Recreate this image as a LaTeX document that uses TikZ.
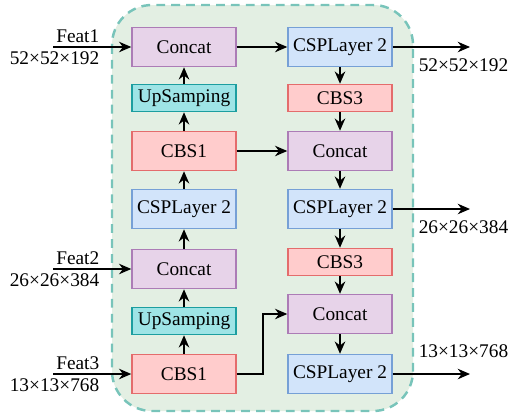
\documentclass[tikz,border=0pt]{standalone}
\usepackage{fontspec}
\setmainfont{Liberation Serif}
\usetikzlibrary{arrows.meta,positioning}

\definecolor{bgfill}{RGB}{227,239,227}
\definecolor{bgline}{RGB}{120,196,186}
\definecolor{catfill}{RGB}{231,211,233}
\definecolor{catline}{RGB}{172,124,182}
\definecolor{upfill}{RGB}{158,228,230}
\definecolor{upline}{RGB}{28,158,160}
\definecolor{cbsfill}{RGB}{255,204,204}
\definecolor{cbsline}{RGB}{228,108,108}
\definecolor{cspfill}{RGB}{210,228,250}
\definecolor{cspline}{RGB}{118,160,214}

\tikzset{
    blk/.style={draw, line width=0.85pt, minimum width=2.08cm, minimum height=0.78cm,
        inner sep=0pt, font=\fontsize{11}{13}\selectfont},
    slim/.style={minimum height=0.54cm},
    catbox/.style={blk, fill=catfill, draw=catline},
    upbox/.style={blk, slim, fill=upfill, draw=upline},
    cbsbox/.style={blk, fill=cbsfill, draw=cbsline},
    cspbox/.style={blk, fill=cspfill, draw=cspline},
    flow/.style={->, line width=0.85pt, >={Stealth[length=7pt,width=6pt]}},
    dim/.style={inner sep=2.5pt, font=\fontsize{11}{13}\selectfont},
}

\begin{document}
\begin{tikzpicture}[x=0.02cm, y=-0.02cm]
    \useasboundingbox (0,0) rectangle (510,416);
    % neck region
    \draw[draw=bgline, fill=bgfill, line width=1.4pt, dash pattern=on 5pt off 3.5pt,
        rounded corners=0.8cm] (112,5) rectangle (413,411);

    % left column, bottom to top
    \node[catbox] (cat-a) at (184,47) {Concat};
    \node[upbox]  (up-a)  at (184,98) {UpSamping};
    \node[cbsbox] (cbs-a) at (184,151) {CBS1};
    \node[cspbox] (csp-a) at (184,209) {CSPLayer 2};
    \node[catbox] (cat-b) at (184,269) {Concat};
    \node[upbox]  (up-b)  at (184,321) {UpSamping};
    \node[cbsbox] (cbs-b) at (184,374) {CBS1};

    % right column, top to bottom
    \node[cspbox] (csp-b) at (340,47) {CSPLayer 2};
    \node[cbsbox, slim] (cbs-c) at (340,98) {CBS3};
    \node[catbox] (cat-c) at (340,151) {Concat};
    \node[cspbox] (csp-c) at (340,209) {CSPLayer 2};
    \node[cbsbox, slim] (cbs-d) at (340,262) {CBS3};
    \node[catbox] (cat-d) at (340,314) {Concat};
    \node[cspbox] (csp-d) at (340,374) {CSPLayer 2};

    % backbone features in
    \foreach \k/\y/\sz/\dst in {1/47/52\texttimes52\texttimes192/cat-a,
                                2/269/26\texttimes26\texttimes384/cat-b,
                                3/374/13\texttimes13\texttimes768/cbs-b} {
        \coordinate (in-\k) at (53,\y);
        \node[dim, anchor=south east] at (104,\y) {Feat\k};
        \node[dim, anchor=north east] at (104,\y) {\sz};
        \draw[flow] (in-\k) -- (\dst);
    }

    % outputs
    \coordinate (out-1) at (470,47);
    \coordinate (out-2) at (470,209);
    \coordinate (out-3) at (470,374);
    \draw[flow] (csp-b) -- (out-1);
    \draw[flow] (csp-c) -- (out-2);
    \draw[flow] (csp-d) -- (out-3);
    \node[dim, anchor=north west] at (414,54) {52\texttimes52\texttimes192};
    \node[dim, anchor=north west] at (414,216) {26\texttimes26\texttimes384};
    \node[dim, anchor=south west] at (414,362) {13\texttimes13\texttimes768};

    % upward path
    \draw[flow] (cbs-b) -- (up-b);
    \draw[flow] (up-b) -- (cat-b);
    \draw[flow] (cat-b) -- (csp-a);
    \draw[flow] (csp-a) -- (cbs-a);
    \draw[flow] (cbs-a) -- (up-a);
    \draw[flow] (up-a) -- (cat-a);
    \draw[flow] (cat-a) -- (csp-b);

    % downward path
    \draw[flow] (csp-b) -- (cbs-c);
    \draw[flow] (cbs-c) -- (cat-c);
    \draw[flow] (cat-c) -- (csp-c);
    \draw[flow] (csp-c) -- (cbs-d);
    \draw[flow] (cbs-d) -- (cat-d);
    \draw[flow] (cat-d) -- (csp-d);

    % skip links
    \draw[flow] (cbs-a) -- (cat-c);
    \draw[flow] (cbs-b.east) -- (263,374) |- (cat-d.west);
\end{tikzpicture}
\end{document}
